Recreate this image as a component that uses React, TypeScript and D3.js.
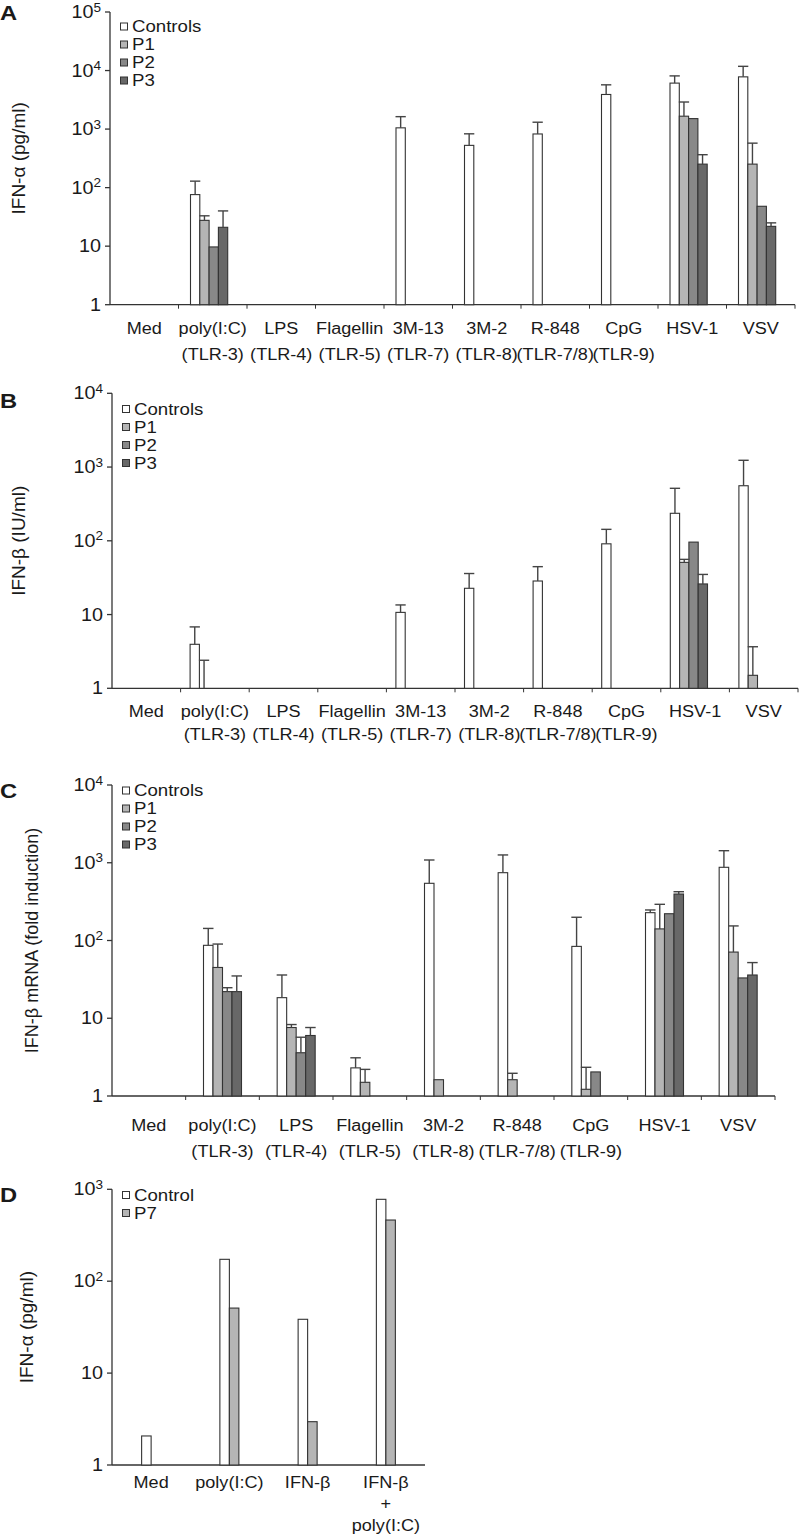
import React from "react";
import * as d3 from "d3";

// ---------- Data ----------
const seriesABC = ["Controls", "P1", "P2", "P3"];
const seriesD = ["Control", "P7"];

const categoriesA = ["Med", "poly(I:C)", "LPS", "Flagellin", "3M-13", "3M-2", "R-848", "CpG", "HSV-1", "VSV"];
const tlrA = ["", "(TLR-3)", "(TLR-4)", "(TLR-5)", "(TLR-7)", "(TLR-8)", "(TLR-7/8)", "(TLR-9)", "", ""];

const aControls = [null, 76, null, null, 1050, 527, 825, 3900, 6100, 7800];
const aControlsErr = [null, 129, null, null, 1630, 830, 1310, 5700, 8100, 11800];
const aP1 = [null, 27.6, null, null, null, null, null, null, 1660, 252];
const aP1Err = [null, 33, null, null, null, null, null, null, 2900, 575];
const aP2 = [null, 9.7, null, null, null, null, null, null, 1510, 48];
const aP2Err = [null, null, null, null, null, null, null, null, null, null];
const aP3 = [null, 21, null, null, null, null, null, null, 252, 21.8];
const aP3Err = [null, 40, null, null, null, null, null, null, 365, 25];

const categoriesB = categoriesA;
const tlrB = tlrA;
const bControls = [null, 3.95, null, null, 10.7, 22.7, 28.5, 91, 236, 558];
const bControlsErr = [null, 6.8, null, null, 13.5, 36, 44.6, 143, 515, 1235];
const bP1 = [null, 1, null, null, null, null, null, null, 51, 1.5];
const bP1Err = [null, 2.4, null, null, null, null, null, null, 56, 3.66];
const bP2 = [null, null, null, null, null, null, null, null, 96, null];
const bP2Err = [null, null, null, null, null, null, null, null, null, null];
const bP3 = [null, null, null, null, null, null, null, null, 26, null];
const bP3Err = [null, null, null, null, null, null, null, null, 35, null];

const categoriesC = ["Med", "poly(I:C)", "LPS", "Flagellin", "3M-2", "R-848", "CpG", "HSV-1", "VSV"];
const tlrC = ["", "(TLR-3)", "(TLR-4)", "(TLR-5)", "(TLR-8)", "(TLR-7/8)", "(TLR-9)", "", ""];
const cControls = [null, 86.7, 18.4, 2.3, 544, 745, 84, 228, 874];
const cControlsErr = [null, 143, 36, 3.1, 1085, 1260, 199, 247, 1429];
const cP1 = [null, 45, 7.6, 1.5, 1.62, 1.62, 1.22, 141, 71];
const cP1Err = [null, 90, 8.3, 2.2, null, 1.96, 2.34, 292, 154];
const cP2 = [null, 22, 3.6, null, null, null, 2.04, 221, 33];
const cP2Err = [null, 24.7, 5.7, null, null, null, null, null, null];
const cP3 = [null, 22, 6.0, null, null, null, null, 396, 36];
const cP3Err = [null, 35, 7.6, null, null, null, null, 424, 52];

const categoriesD = [["Med"], ["poly(I:C)"], ["IFN-β"], ["IFN-β", "+", "poly(I:C)"]];
const dControl = [2.07, 173, 38.5, 778];
const dP7 = [null, 51, 2.96, 463];

// ---------- Styles ----------
const FILLS = ["#ffffff", "#b5b5b5", "#888888", "#686868"];
const STROKE = "#333333";
const FONT = "'Liberation Sans', Arial, Helvetica, sans-serif";
const SX = 1.13; // the reference type is slightly stretched horizontally

function T(props: {
  x: number;
  y: number;
  size: number;
  anchor?: string;
  children: React.ReactNode;
  weight?: string;
}) {
  return (
    <text
      transform={`translate(${props.x},${props.y}) scale(${SX},1)`}
      dy="0.35em"
      textAnchor={props.anchor || "start"}
      fontSize={props.size}
      fontWeight={props.weight}
    >
      {props.children}
    </text>
  );
}

type PanelProps = {
  letter: string;
  letterY: number;
  yTitle: string;
  yTitleX: number;
  yTitleSize: number;
  x0: number;
  x1: number;
  yTop: number;
  yBottom: number;
  maxExp: number;
  cats: string[][];
  catRowY: number[];
  series: string[];
  values: (number | null)[][];
  errs: (number | null)[][];
  barW: number;
  groupOffset: number | null;
  legendY: number;
  xTicks: boolean;
};

function Panel(p: PanelProps) {
  const y = d3.scaleLog().domain([1, Math.pow(10, p.maxExp)]).range([p.yBottom, p.yTop]);
  const xb = d3
    .scaleBand()
    .domain(p.cats.map((_, i) => String(i)))
    .range([p.x0, p.x1])
    .padding(0);
  const bw = xb.bandwidth();
  const groupW = p.barW * p.series.length;
  const off = p.groupOffset == null ? (bw - groupW) / 2 : p.groupOffset;
  const xs = d3
    .scaleBand()
    .domain(p.series)
    .range([off, off + groupW])
    .padding(0);

  const ticks = d3.range(0, p.maxExp + 1).map((e) => Math.pow(10, e));
  const bars: JSX.Element[] = [];
  const errEls: JSX.Element[] = [];
  p.series.forEach((s, si) => {
    p.values[si].forEach((v, ci) => {
      const bx = (xb(String(ci)) as number) + (xs(s) as number);
      if (v != null && v > 1) {
        bars.push(
          <rect
            key={`b${si}-${ci}`}
            x={bx}
            y={y(v)}
            width={p.barW}
            height={p.yBottom - y(v)}
            fill={FILLS[si]}
            stroke={STROKE}
            strokeWidth={1.1}
          />
        );
      }
      const e = p.errs[si] ? p.errs[si][ci] : null;
      if (e != null && v != null) {
        const cx = bx + p.barW / 2;
        const ytop = y(e);
        errEls.push(
          <g key={`e${si}-${ci}`} stroke="#444" strokeWidth={1.4}>
            <line x1={cx} x2={cx} y1={y(Math.max(v, 1))} y2={ytop} />
            <line x1={cx - p.barW / 2 - 0.5} x2={cx + p.barW / 2 + 0.5} y1={ytop} y2={ytop} />
          </g>
        );
      }
    });
  });

  const midY = (p.yTop + p.yBottom) / 2;

  return (
    <g fontFamily={FONT} fill="#1a1a1a">
      <T x={0} y={p.letterY - 7} size={21} weight="bold">
        {p.letter}
      </T>
      <text
        transform={`translate(${p.yTitleX},${midY}) rotate(-90)`}
        textAnchor="middle"
        dy="0.35em"
        fontSize={p.yTitleSize}
      >
        {p.yTitle}
      </text>
      {/* y axis */}
      <line x1={p.x0} x2={p.x0} y1={p.yTop} y2={p.yBottom} stroke={STROKE} strokeWidth={1.3} />
      {ticks.map((t, i) => (
        <g key={`yt${i}`}>
          <line x1={p.x0 - 5} x2={p.x0} y1={y(t)} y2={y(t)} stroke={STROKE} strokeWidth={1.3} />
          <T x={p.x0 - 9} y={y(t)} anchor="end" size={17.5}>
            {i === 0 ? "1" : i === 1 ? "10" : (
              <>
                10
                <tspan fontSize={12} dy={-6.5}>
                  {String(i)}
                </tspan>
              </>
            )}
          </T>
        </g>
      ))}
      {/* x axis */}
      <line x1={p.x0} x2={p.x1} y1={p.yBottom} y2={p.yBottom} stroke={STROKE} strokeWidth={1.3} />
      {p.xTicks &&
        p.cats.map((_, i) => {
          const tx = xb(String(i)) as number;
          return i === 0 ? null : (
            <line key={`xt${i}`} x1={tx} x2={tx} y1={p.yBottom} y2={p.yBottom + 4} stroke={STROKE} strokeWidth={1} />
          );
        })}
      {p.xTicks && (
        <line x1={p.x1} x2={p.x1} y1={p.yBottom} y2={p.yBottom + 4} stroke={STROKE} strokeWidth={1} />
      )}
      {bars}
      {errEls}
      {/* category labels */}
      {p.cats.map((lines, i) => (
        <g key={`cl${i}`}>
          {lines.map((ln, li) =>
            ln ? (
              <T key={li} x={(xb(String(i)) as number) + bw / 2} y={p.catRowY[li]} anchor="middle" size={16}>
                {ln}
              </T>
            ) : null
          )}
        </g>
      ))}
      {/* legend */}
      {p.series.map((s, si) => (
        <g key={`lg${si}`}>
          <rect
            x={p.x0 + 10.5}
            y={p.legendY + si * 18 - 3.5}
            width={7}
            height={7}
            fill={FILLS[si]}
            stroke={STROKE}
            strokeWidth={1}
          />
          <T x={p.x0 + 22} y={p.legendY + si * 18} size={16.5}>
            {s}
          </T>
        </g>
      ))}
    </g>
  );
}

export default function App() {
  const catsA = categoriesA.map((c, i) => [c, tlrA[i]]);
  const catsB = categoriesB.map((c, i) => [c, tlrB[i]]);
  const catsC = categoriesC.map((c, i) => [c, tlrC[i]]);
  return (
    <svg width={800} height={1535} style={{ display: "block", position: "absolute", left: 0, top: 0, background: "#fff" }}>
      <rect width={800} height={1535} fill="#fff" />
      <Panel
        letter="A"
        letterY={20}
        yTitle="IFN-α (pg/ml)"
        yTitleX={18}
        yTitleSize={19}
        x0={110}
        x1={795}
        yTop={12}
        yBottom={304.7}
        maxExp={5}
        cats={catsA}
        catRowY={[328.5, 354]}
        series={seriesABC}
        values={[aControls, aP1, aP2, aP3]}
        errs={[aControlsErr, aP1Err, aP2Err, aP3Err]}
        barW={9.3}
        groupOffset={12}
        legendY={26.5}
        xTicks={true}
      />
      <Panel
        letter="B"
        letterY={408}
        yTitle="IFN-β (IU/ml)"
        yTitleX={18.5}
        yTitleSize={19}
        x0={112}
        x1={798}
        yTop={393.3}
        yBottom={688.3}
        maxExp={4}
        cats={catsB}
        catRowY={[711.5, 734]}
        series={seriesABC}
        values={[bControls, bP1, bP2, bP3]}
        errs={[bControlsErr, bP1Err, bP2Err, bP3Err]}
        barW={9.3}
        groupOffset={9.5}
        legendY={409}
        xTicks={true}
      />
      <Panel
        letter="C"
        letterY={798}
        yTitle="IFN-β mRNA (fold induction)"
        yTitleX={32}
        yTitleSize={18}
        x0={112}
        x1={775}
        yTop={785}
        yBottom={1096}
        maxExp={4}
        cats={catsC}
        catRowY={[1125, 1151.5]}
        series={seriesABC}
        values={[cControls, cP1, cP2, cP3]}
        errs={[cControlsErr, cP1Err, cP2Err, cP3Err]}
        barW={9.5}
        groupOffset={null}
        legendY={790.5}
        xTicks={true}
      />
      <Panel
        letter="D"
        letterY={1202}
        yTitle="IFN-α (pg/ml)"
        yTitleX={26}
        yTitleSize={19}
        x0={112}
        x1={425}
        yTop={1189.3}
        yBottom={1465}
        maxExp={3}
        cats={categoriesD}
        catRowY={[1482, 1503, 1525]}
        series={seriesD}
        values={[dControl, dP7]}
        errs={[[], []]}
        barW={9.5}
        groupOffset={null}
        legendY={1195}
        xTicks={false}
      />
    </svg>
  );
}
